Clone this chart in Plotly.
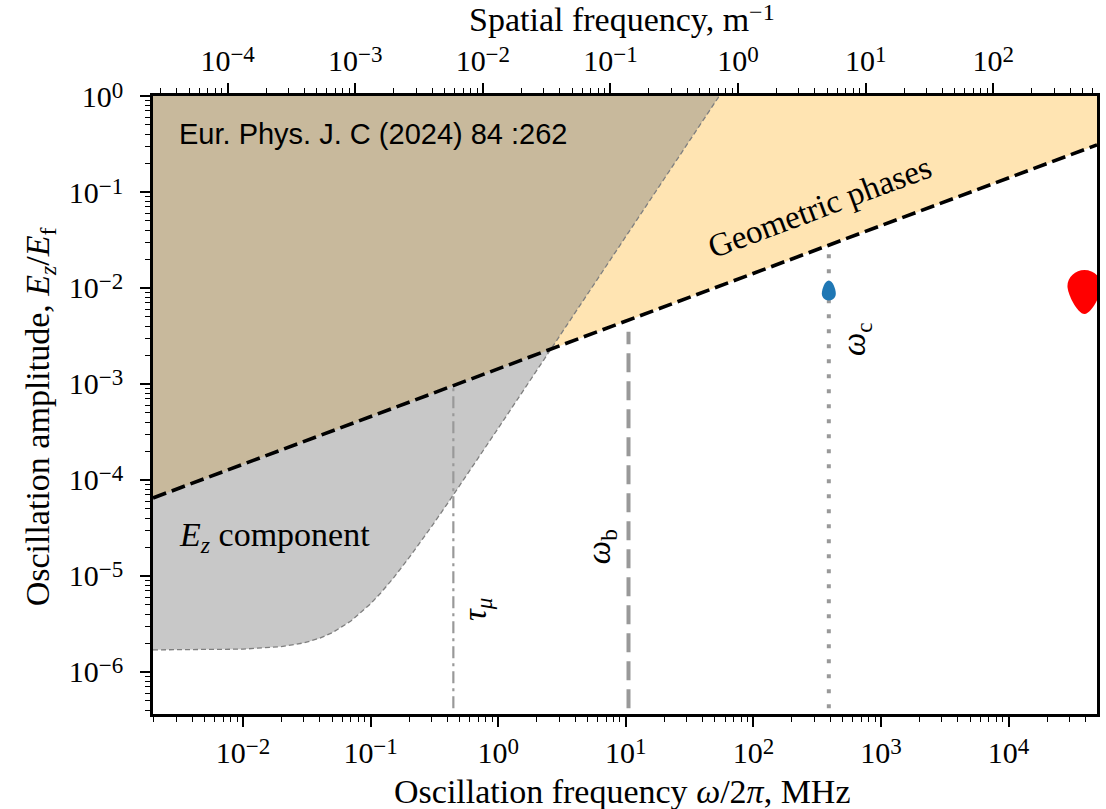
import math
import plotly.graph_objects as go

# ---------------- data ----------------
# axis extents
freq_lim_mhz = [0.00197, 49300.0]          # bottom axis (MHz)
spatial_lim = [0.0000260, 650.0]          # top axis (m^-1)
amp_lim = [3.65e-7, 1.0]                   # y axis

# "Geometric phases" boundary (black dashed line)
geo_freq = [0.00197, 49300.0]
geo_amp = [6.5e-5, 0.31]

# "E_z component" boundary (thin grey dashed curve)
ez_freq = [0.00197, 0.005, 0.01, 0.02, 0.03, 0.04, 0.05, 0.07, 0.1, 0.12, 0.15,
           0.2, 0.25, 0.3, 0.4, 0.5, 0.7, 1.0, 1.5, 2.6, 5.0, 10.0, 20.0, 54.0]
ez_amp = [1.70e-6, 1.71e-6, 1.73e-6, 1.84e-6, 2.01e-6, 2.25e-6, 2.56e-6, 3.39e-6,
          5.14e-6, 6.65e-6, 9.44e-6, 1.55e-5, 2.32e-5, 3.27e-5, 5.67e-5, 8.77e-5,
          1.70e-4, 3.46e-4, 7.76e-4, 2.33e-3, 8.6e-3, 3.44e-2, 0.1376, 1.0]

# vertical markers
tau_mu_freq, tau_mu_span = 0.445, [4.2e-7, 1.0e-3]
omega_b_freq, omega_b_span = 10.5, [4.2e-7, 3.5e-3]
omega_c_freq, omega_c_span = 390.0, [4.2e-7, 2.9e-2]

# measurement points
blue_freq, blue_amp = 390.0, 9.4e-3
red_freq, red_amp = 39300.0, 9.1e-3

# tick labels
SUP = "<span style='font-size:23px;baseline-shift:9px'>{}</span>"
bottom_ticks = [1e-2, 1e-1, 1e0, 1e1, 1e2, 1e3, 1e4]
bottom_exps = ["−2", "−1", "0", "1", "2", "3", "4"]
top_ticks = [1e-4, 1e-3, 1e-2, 1e-1, 1e0, 1e1, 1e2]
top_exps = ["−4", "−3", "−2", "−1", "0", "1", "2"]
y_ticks = [1e-6, 1e-5, 1e-4, 1e-3, 1e-2, 1e-1, 1e0]
y_exps = ["−6", "−5", "−4", "−3", "−2", "−1", "0"]
bottom_ticktext = ["10" + SUP.format(e) for e in bottom_exps]
top_ticktext = ["10" + SUP.format(e) for e in top_exps]
y_ticktext = ["10" + SUP.format(e) for e in y_exps]

# ---------------- styling ----------------
SERIF = "Liberation Serif"
TICK_SIZE = 30
TITLE_SIZE = 34
LBL_SIZE = 33


def minor_vals(lo, hi):
    out = []
    for e in range(int(math.floor(math.log10(lo))) - 1, int(math.ceil(math.log10(hi))) + 1):
        for k in range(2, 10):
            v = k * 10 ** e
            if lo <= v <= hi:
                out.append(v)
    return out


fig = go.Figure()

X_LO, X_HI = freq_lim_mhz[0] * 0.8, freq_lim_mhz[1] * 1.2
Y_TOP = amp_lim[1] * 1.5

# orange region: above the geometric phase line
fig.add_trace(go.Scatter(
    x=geo_freq + [X_HI, X_HI, X_LO, X_LO],
    y=geo_amp + [geo_amp[-1], Y_TOP, Y_TOP, geo_amp[0]],
    mode="lines", fill="toself", fillcolor="rgba(255,165,0,0.30)",
    line=dict(width=0), hoverinfo="skip", showlegend=False))

# grey region: above the E_z curve
fig.add_trace(go.Scatter(
    x=[X_LO] + ez_freq + [ez_freq[-1], X_LO],
    y=[ez_amp[0]] + ez_amp + [Y_TOP, Y_TOP],
    mode="lines", fill="toself", fillcolor="rgba(128,128,128,0.43)",
    line=dict(width=0), hoverinfo="skip", showlegend=False))

# grey dashed E_z curve
fig.add_trace(go.Scatter(
    x=ez_freq, y=ez_amp, mode="lines",
    line=dict(color="#7f7f7f", width=1.3, dash="5px,3px"),
    hoverinfo="skip", showlegend=False))

# vertical lines
fig.add_trace(go.Scatter(
    x=[tau_mu_freq, tau_mu_freq], y=tau_mu_span, mode="lines",
    line=dict(color="#999999", width=2.2, dash="12px,5px,3px,5px"),
    hoverinfo="skip", showlegend=False))
fig.add_trace(go.Scatter(
    x=[omega_b_freq, omega_b_freq], y=omega_b_span, mode="lines",
    line=dict(color="#999999", width=4, dash="19px,9px"),
    hoverinfo="skip", showlegend=False))
fig.add_trace(go.Scatter(
    x=[omega_c_freq, omega_c_freq], y=omega_c_span, mode="lines",
    line=dict(color="#999999", width=4, dash="4px,11px"),
    hoverinfo="skip", showlegend=False))

# black dashed geometric phase line
fig.add_trace(go.Scatter(
    x=geo_freq, y=geo_amp, mode="lines",
    line=dict(color="black", width=3.6, dash="14px,6px"),
    hoverinfo="skip", showlegend=False))

# invisible trace for top axis
fig.add_trace(go.Scatter(
    x=spatial_lim, y=[amp_lim[0], amp_lim[0]], xaxis="x2", mode="markers",
    marker=dict(size=1, opacity=0), hoverinfo="skip", showlegend=False))

# measurement blobs (egg shapes anchored at data values, sized in pixels; +y is up)
blue_path = "M 0,10 C 4,10 7,1 7,-3 C 7,-7 4,-10 0,-10 C -4,-10 -7,-7 -7,-3 C -7,1 -4,10 0,10 Z"
red_path = "M 0,-22 C 7,-22 17,-2 17,6 C 17,15 9,22 0,22 C -9,22 -17,15 -17,6 C -17,-2 -7,-22 0,-22 Z"
fig.add_shape(type="path", xref="x", yref="y", xsizemode="pixel", ysizemode="pixel",
              xanchor=blue_freq, yanchor=blue_amp, path=blue_path,
              fillcolor="#1f77b4", line=dict(width=0), layer="above")
fig.add_shape(type="path", xref="x", yref="y", xsizemode="pixel", ysizemode="pixel",
              xanchor=red_freq, yanchor=red_amp, path=red_path,
              fillcolor="#ff0000", line=dict(width=0), layer="above")
# grey dot of the dotted line over the blue blob
fig.add_trace(go.Scatter(
    x=[blue_freq], y=[blue_amp], mode="markers",
    marker=dict(symbol="square", size=4, color="#999999"),
    hoverinfo="skip", showlegend=False))

L = math.log10
annotations = [
    dict(x=L(0.00305), y=L(0.40), text="Eur. Phys. J. C (2024) 84 :262", xanchor="left",
         yanchor="middle", font=dict(family="Liberation Sans, Arial", size=29, color="black")),
    dict(x=L(330), y=L(0.069), text="Geometric phases", textangle=-20.5,
         font=dict(family=SERIF, size=LBL_SIZE, color="black")),
    dict(x=L(0.00305), y=L(2.55e-5), text="<i>E</i><sub><i>z</i></sub> component",
         xanchor="left", yanchor="middle", font=dict(family=SERIF, size=34, color="black")),
    dict(x=L(0.68), y=L(4.5e-6), text="<i>τ</i><sub><i>μ</i></sub>", textangle=-90,
         font=dict(family=SERIF, size=LBL_SIZE, color="black")),
    dict(x=L(6.4), y=L(2.0e-5), text="<i>ω</i><sub>b</sub>", textangle=-90,
         font=dict(family=SERIF, size=LBL_SIZE, color="black")),
    dict(x=L(650), y=L(2.95e-3), text="<i>ω</i><sub>c</sub>", textangle=-90,
         font=dict(family=SERIF, size=LBL_SIZE, color="black")),
]
for a in annotations:
    a.update(xref="x", yref="y", showarrow=False)

# axis titles as paper annotations
title_font = dict(family=SERIF, size=TITLE_SIZE, color="black")
annotations += [
    dict(xref="paper", yref="paper", x=0.4972, y=-0.126, xanchor="center", yanchor="middle",
         text="Oscillation frequency <i>ω</i>/2<i>π</i>, MHz", showarrow=False, font=title_font),
    dict(xref="paper", yref="paper", x=0.4972, y=1.125, xanchor="center", yanchor="middle",
         text="Spatial frequency, m<span style='font-size:24px;baseline-shift:11px'>−1</span>",
         showarrow=False, font=title_font),
    dict(xref="paper", yref="paper", x=0, xshift=-113, y=0.48, xanchor="center",
         yanchor="middle", textangle=-90,
         text="Oscillation amplitude, <i>E</i><sub><i>z</i></sub>/<i>E</i><sub>f</sub>",
         showarrow=False, font=title_font),
]

axis_common = dict(
    type="log", showgrid=False, zeroline=False, showline=True, linecolor="black",
    linewidth=2.5, ticks="outside", ticklen=10, tickwidth=1.6, tickcolor="black",
    tickfont=dict(family=SERIF, size=TICK_SIZE, color="black"), tickmode="array",
)

fig.update_layout(
    width=1106, height=809,
    margin=dict(l=153, r=6, t=96, b=95),
    paper_bgcolor="white", plot_bgcolor="white",
    showlegend=False,
    annotations=annotations,
    xaxis=dict(
        **axis_common,
        range=[L(freq_lim_mhz[0]), L(freq_lim_mhz[1])],
        tickvals=bottom_ticks, ticktext=bottom_ticktext,
        minor=dict(ticks="outside", ticklen=5.5, tickwidth=1.3, tickcolor="black",
                   tickmode="array", tickvals=minor_vals(*freq_lim_mhz), showgrid=False),
    ),
    xaxis2=dict(
        **axis_common,
        overlaying="x", side="top", anchor="y",
        range=[L(spatial_lim[0]), L(spatial_lim[1])],
        tickvals=top_ticks, ticktext=top_ticktext, ticklabelstandoff=0,
        minor=dict(ticks="outside", ticklen=5.5, tickwidth=1.3, tickcolor="black",
                   tickmode="array", tickvals=minor_vals(*spatial_lim), showgrid=False),
    ),
    yaxis=dict(
        **axis_common,
        mirror=True,
        range=[L(amp_lim[0]), L(amp_lim[1])],
        tickvals=y_ticks, ticktext=y_ticktext, ticklabelstandoff=11,
        minor=dict(ticks="outside", ticklen=5.5, tickwidth=1.3, tickcolor="black",
                   tickmode="array", tickvals=minor_vals(*amp_lim), showgrid=False),
    ),
)

fig.write_html("out.html", config={"displayModeBar": False},
               post_script="document.body.style.margin='0';")
